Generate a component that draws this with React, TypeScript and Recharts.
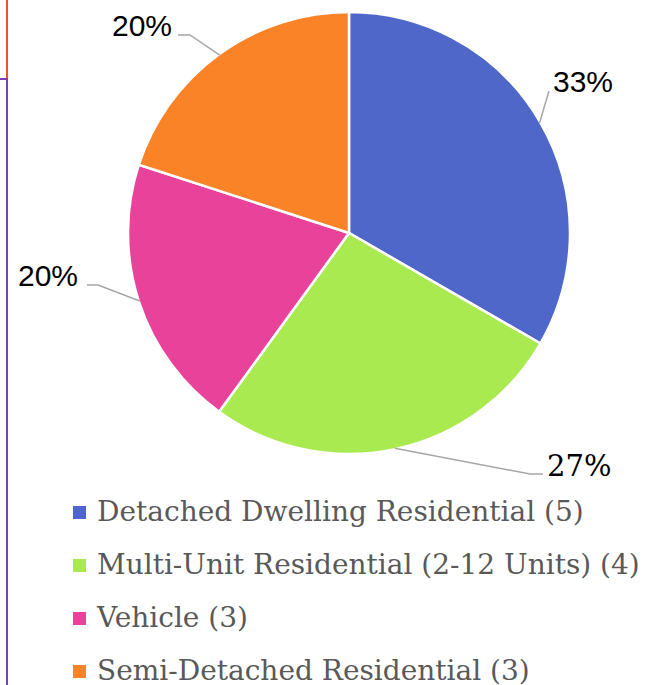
import { Cell, Legend, Pie, PieChart } from "recharts"

const categories = [
    "Detached Dwelling Residential",
    "Multi-Unit Residential (2-12 Units)",
    "Vehicle",
    "Semi-Detached Residential",
]
const counts = [5, 4, 3, 3]
const colors = ["#4F67C9", "#A9EA51", "#E9429B", "#FB8327"]

const SANS = "Liberation Sans, Arial, sans-serif"
const SERIF = "DejaVu Serif, serif"

// Excel-style label placement, relative to the pie centre
const labelLayout = [
    { ex: 200, ey: -142, tx: 200, x: 204, y: -141, anchor: "start", font: SANS, size: 30 },
    { ex: 181, ey: 241, tx: 194, x: 198, y: 243, anchor: "start", font: SERIF, size: 29 },
    { ex: -251, ey: 52, tx: -262, x: -271, y: 53, anchor: "end", font: SANS, size: 30 },
    { ex: -159, ey: -198, tx: -171, x: -177, y: -197, anchor: "end", font: SANS, size: 30 },
]

const data = categories.map((name, i) => ({ name: `${name} (${counts[i]})`, value: counts[i] }))

const RADIAN = Math.PI / 180

const renderLabel = (props: any) => {
    const { cx, cy, midAngle, outerRadius, percent, index } = props
    const l = labelLayout[index]
    const sx = cx + (outerRadius - 1) * Math.cos(-midAngle * RADIAN)
    const sy = cy + (outerRadius - 1) * Math.sin(-midAngle * RADIAN)
    return (
        <g key={`lbl-${index}`} fontFamily={l.font}>
            <polyline
                points={`${sx},${sy} ${cx + l.ex},${cy + l.ey} ${cx + l.tx},${cy + l.ey}`}
                fill="none"
                stroke="#A6A6A6"
                strokeWidth={1.5}
            />
            <text
                x={cx + l.x}
                y={cy + l.y}
                textAnchor={l.anchor}
                fontFamily={l.font}
                fontSize={l.size}
                style={{ fontFamily: l.font, fontSize: l.size }}
                fill="#000"
            >
                {`${Math.round(percent * 100)}%`}
            </text>
        </g>
    )
}

// legend drawn in the data order (recharts sorts legend items by default)
const renderLegend = () => (
    <div style={{ position: "relative", height: 0 }}>
        {data.map((d, i) => (
            <div key={i} style={{ position: "absolute", left: 0, top: i * 53, height: 53, width: 650 }}>
                <div style={{ position: "absolute", left: 73, top: 12, width: 13, height: 13, background: colors[i] }} />
                <div
                    style={{
                        position: "absolute",
                        left: 97,
                        top: 0,
                        fontFamily: SERIF,
                        fontSize: 28,
                        color: "#595959",
                        whiteSpace: "nowrap",
                        lineHeight: "36px",
                    }}
                >
                    {d.name}
                </div>
            </div>
        ))}
    </div>
)

export default function App() {
    return (
        <div style={{ position: "absolute", left: 0, top: 0, width: 650, height: 685, overflow: "hidden", background: "#fff" }}>
            <div style={{ position: "absolute", left: 6, top: 0, width: 2, height: 79, background: "#F0502D" }} />
            <div style={{ position: "absolute", left: 0, top: 78, width: 8, height: 2, background: "#7B3FB0" }} />
            <div style={{ position: "absolute", left: 6, top: 78, width: 2, height: 607, background: "#7B3FB0" }} />
            <div style={{ position: "absolute", left: 0, top: 0 }}>
                <PieChart width={650} height={685} margin={{ top: 0, right: 0, bottom: 0, left: 0 }}>
                    <Pie
                        data={data}
                        dataKey="value"
                        nameKey="name"
                        cx={349}
                        cy={233}
                        outerRadius={221}
                        startAngle={90}
                        endAngle={-270}
                        stroke="#fff"
                        strokeWidth={2.5}
                        label={renderLabel}
                        labelLine={false}
                        isAnimationActive={false}
                    >
                        {data.map((_, i) => (
                            <Cell key={i} fill={colors[i]} />
                        ))}
                    </Pie>
                    <Legend
                        layout="horizontal"
                        verticalAlign="bottom"
                        align="left"
                        content={renderLegend}
                        wrapperStyle={{ position: "absolute", top: 494, left: 0, width: 650, height: 0 }}
                    />
                </PieChart>
            </div>
        </div>
    )
}
